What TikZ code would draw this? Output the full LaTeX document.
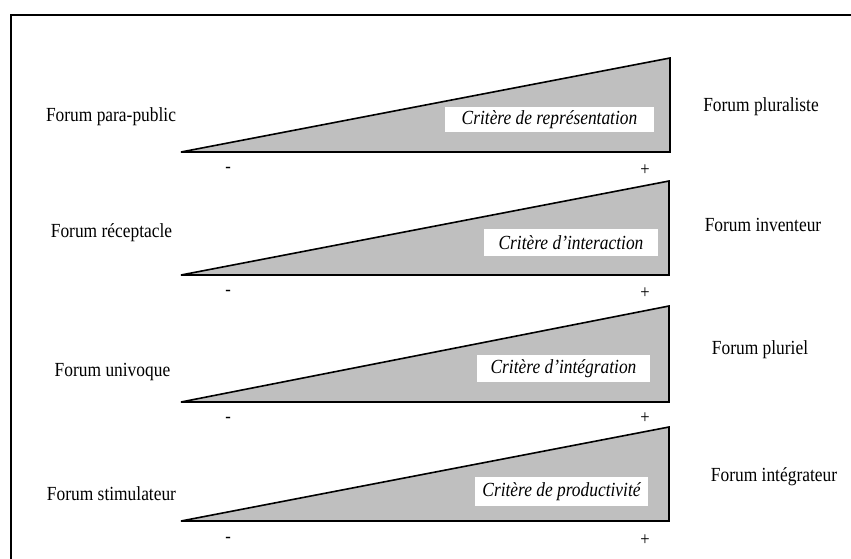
\documentclass[tikz,border=0pt]{standalone}
\usepackage{fontspec}
\setmainfont{Liberation Serif}[FakeStretch=0.87]
\begin{document}
\begin{tikzpicture}[x=1pt,y=-1pt,
  lbl/.style={font=\fontsize{20}{22}\selectfont, inner sep=0pt, anchor=center},
  crit/.style={font=\fontsize{20}{22}\selectfont\itshape, fill=white, inner sep=0pt, anchor=center},
  wedge/.style={draw=black, fill=gray!50!white, line width=1.6pt, line join=miter},
  sign/.style={font=\fontsize{19}{20}\selectfont, inner sep=0pt, anchor=center}]
\useasboundingbox (0,0) rectangle (851,558);
\draw[line width=1.8pt] (11,15) rectangle (870,580);
% row 1
\draw[wedge] (181,152) -- (670,58) -- (670,152) -- cycle;
\node[crit, minimum width=209pt, minimum height=25pt] (c1) at (549.5,119.5) {Critère de représentation};
\node[lbl] (l1) at (111,117) {Forum para-public};
\node[lbl] (r1) at (761,107) {Forum pluraliste};
\node[sign] (m1) at (228,170) {-};
\node[sign] (p1) at (645,170) {+};
% row 2
\draw[wedge] (181,275) -- (669,181) -- (669,275) -- cycle;
\node[crit, minimum width=174pt, minimum height=27pt] (c2) at (571,242.5) {Critère d’interaction};
\node[lbl] (l2) at (111.5,233) {Forum réceptacle};
\node[lbl] (r2) at (763,225) {Forum inventeur};
\node[sign] (m2) at (228,293) {-};
\node[sign] (p2) at (645,293) {+};
% row 3
\draw[wedge] (181,402) -- (669,306) -- (669,402) -- cycle;
\node[crit, minimum width=173pt, minimum height=27pt] (c3) at (563.5,368.5) {Critère d’intégration};
\node[lbl] (l3) at (112.5,372) {Forum univoque};
\node[lbl] (r3) at (760,350) {Forum pluriel};
\node[sign] (m3) at (228,420) {-};
\node[sign] (p3) at (645,418) {+};
% row 4
\draw[wedge] (181,521) -- (669,427) -- (669,521) -- cycle;
\node[crit, minimum width=173pt, minimum height=29pt] (c4) at (561.5,491.5) {Critère de productivité};
\node[lbl] (l4) at (111.5,494) {Forum stimulateur};
\node[lbl] (r4) at (774,477) {Forum intégrateur};
\node[sign] (m4) at (228,540) {-};
\node[sign] (p4) at (645,540) {+};
\end{tikzpicture}
\end{document}
